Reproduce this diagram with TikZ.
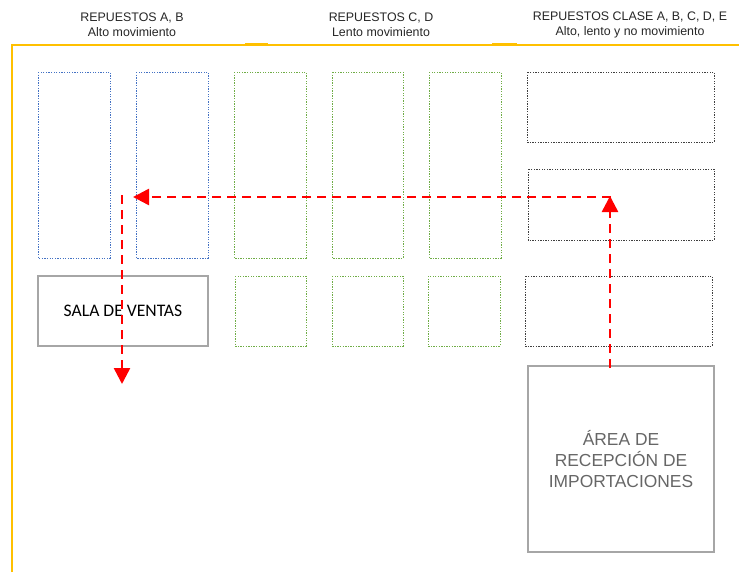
\documentclass[tikz,border=0pt]{standalone}
\usepackage{fontspec}
\setmainfont{Liberation Sans}
\newfontfamily\calfont{Carlito}
\usetikzlibrary{arrows.meta}
\definecolor{ybar}{HTML}{FFC000}
\definecolor{bdot}{HTML}{4472C4}
\definecolor{gdot}{HTML}{70AD47}
\definecolor{kdot}{HTML}{404040}
\definecolor{gbox}{HTML}{A6A6A6}
\definecolor{rarrow}{HTML}{FF0000}
\tikzset{
  rack/.style={draw, line width=0.9pt, dash pattern=on 1.3pt off 1.3pt},
  bluerack/.style={rack, draw=bdot},
  greenrack/.style={rack, draw=gdot},
  blackrack/.style={rack, draw=kdot},
  solidbox/.style={draw=gbox, line width=2pt},
  header/.style={align=center, font=\fontsize{12.4}{15}\selectfont, text=black!85},
  flow/.style={draw=rarrow, line width=2.5pt, dash pattern=on 9pt off 6pt,
    -{Triangle[length=16pt,width=16pt]}},
  wall/.style={draw=ybar, line width=2pt}
}
\begin{document}
\begin{tikzpicture}[x=1pt,y=-1pt]
\useasboundingbox (0,0) rectangle (739,573);
% walls
\coordinate (wt) at (12,45);
\coordinate (we) at (739,45);
\coordinate (wb) at (12,572);
\draw[wall] (wb) -- (wt) -- (we);
\coordinate (s1a) at (245,44); \coordinate (s1b) at (268,44);
\coordinate (s2a) at (492,44); \coordinate (s2b) at (517,44);
\draw[wall] (s1a) -- (s1b);
\draw[wall] (s2a) -- (s2b);
% headers
\node[header] (h1) at (132,25) {REPUESTOS A, B\\Alto movimiento};
\node[header] (h2) at (381,25) {REPUESTOS C, D\\Lento movimiento};
\node[header] (h3) at (630,25) {REPUESTOS CLASE A, B, C, D, E\\Alto, lento y no movimiento};
% blue racks
\draw[bluerack] (38,72) rectangle (110,258);
\draw[bluerack] (136,72) rectangle (208,258);
% green racks
\draw[greenrack] (234,72) rectangle (306,258);
\draw[greenrack] (332,72) rectangle (403,258);
\draw[greenrack] (429,72) rectangle (501,258);
\draw[greenrack] (235,276) rectangle (306,346);
\draw[greenrack] (332,276) rectangle (403,346);
\draw[greenrack] (428,276) rectangle (500,346);
% black racks
\draw[blackrack] (527,72) rectangle (714,142);
\draw[blackrack] (528,169) rectangle (714,240);
\draw[blackrack] (525,276) rectangle (712,346);
% sala de ventas
\node[solidbox, minimum width=170pt, minimum height=70pt, inner sep=0pt,
  font=\calfont\fontsize{17.6}{20}\selectfont, text=black] (sala) at (123,311) {SALA DE VENTAS};
% area de recepcion
\node[solidbox, minimum width=186pt, minimum height=186pt, inner sep=0pt, align=center,
  font=\fontsize{17.4}{21}\selectfont, text=black!60] (area) at (621,459)
  {ÁREA DE\\RECEPCIÓN DE\\IMPORTACIONES};
% flow
\coordinate (fstart) at (610,368);
\coordinate (fup) at (610,196);
\coordinate (fcorner) at (611,197);
\coordinate (fleft) at (133,197);
\coordinate (dstart) at (122,195);
\coordinate (dend) at (122,384);
\draw[flow] (fstart) -- (fup);
\draw[flow] (fcorner) -- (fleft);
\draw[flow] (dstart) -- (dend);
\end{tikzpicture}
\end{document}
